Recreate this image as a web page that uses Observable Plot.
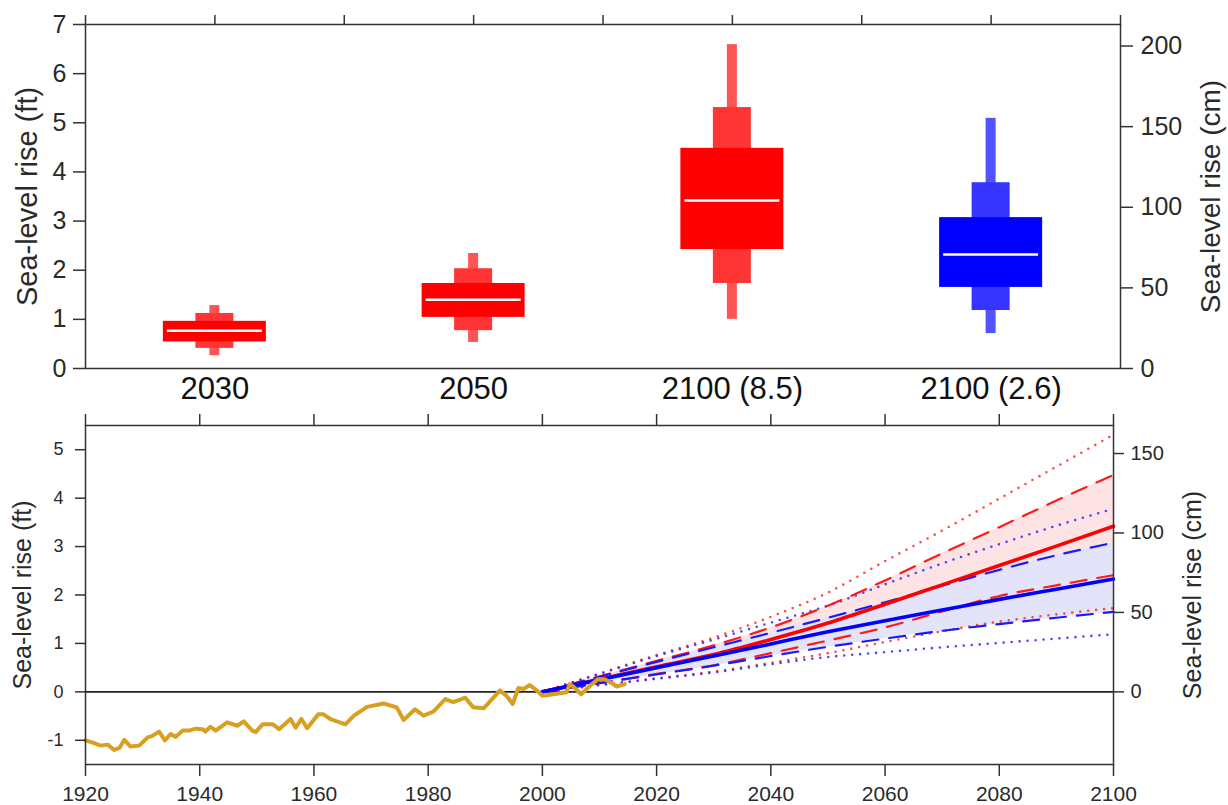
<!DOCTYPE html>
<html><head><meta charset="utf-8">
<script src="https://cdn.jsdelivr.net/npm/d3@7"></script>
<script src="https://cdn.jsdelivr.net/npm/@observablehq/plot@0.6"></script>
<style>
body{margin:0;background:#fff;}
#chart{width:1228px;height:805px;overflow:hidden;}
#chart svg{display:block;}
</style></head><body><div id="chart"></div>
<script>
// ---------- Top panel data (ft) ----------
const categories = ["2030", "2050", "2100 (8.5)", "2100 (2.6)"];
const scenario   = ["RCP8.5", "RCP8.5", "RCP8.5", "RCP2.6"];
const whiskerLo  = [0.26, 0.53, 1.00, 0.71];
const whiskerHi  = [1.28, 2.34, 6.59, 5.09];
const outerLo    = [0.41, 0.77, 1.73, 1.18];
const outerHi    = [1.12, 2.03, 5.31, 3.78];
const innerLo    = [0.54, 1.04, 2.42, 1.65];
const innerHi    = [0.96, 1.73, 4.48, 3.07];
const medianFt   = [0.77, 1.40, 3.42, 2.32];
const topFtTicks = [0, 1, 2, 3, 4, 5, 6, 7];
const topCmTicks = [0, 50, 100, 150, 200];

// ---------- Bottom panel data (ft) ----------
const histYear = [1920,1921,1922.7,1923.9,1925,1926,1926.8,1927.9,1929.4,1930.9,1931.7,1932.9,1933.9,1934.9,1935.8,1937,1938.1,1939.3,1940.5,1941,1941.9,1942.8,1944.8,1946.6,1947.7,1949.2,1949.8,1951,1952.8,1953.9,1955.9,1956.8,1957.8,1958.8,1960.8,1961.6,1963,1965.5,1967,1969.3,1972.2,1974.5,1975.7,1977.7,1979.2,1980.9,1983,1984.4,1986.5,1987.9,1989.7,1992.6,1993.7,1994.8,1995.8,1996.7,1997.8,1999,2000,2001.9,2004.2,2004.8,2005.4,2006.8,2008.3,2009.7,2010.9,2012.4,2013,2014.4];
const histFt   = [-1.00,-1.04,-1.11,-1.09,-1.20,-1.15,-0.99,-1.13,-1.11,-0.94,-0.91,-0.82,-1.00,-0.87,-0.93,-0.80,-0.80,-0.76,-0.77,-0.82,-0.72,-0.80,-0.63,-0.70,-0.61,-0.80,-0.83,-0.67,-0.67,-0.77,-0.56,-0.74,-0.56,-0.75,-0.46,-0.46,-0.57,-0.67,-0.49,-0.31,-0.24,-0.32,-0.58,-0.36,-0.49,-0.41,-0.15,-0.21,-0.12,-0.32,-0.34,0.03,-0.08,-0.25,0.08,0.06,0.14,0.03,-0.08,-0.05,-0.01,0.16,0.11,-0.05,0.12,0.26,0.26,0.16,0.11,0.16];

const projYear = [2000, 2010, 2020, 2030, 2040, 2050, 2060, 2070, 2080, 2090, 2100];
const red50  = [0, 0.26, 0.52, 0.77, 1.08, 1.42, 1.81, 2.21, 2.61, 3.01, 3.42];
const red17  = [0, 0.18, 0.37, 0.55, 0.80, 1.06, 1.33, 1.66, 1.98, 2.20, 2.41];
const red83  = [0, 0.32, 0.64, 0.96, 1.33, 1.78, 2.30, 2.86, 3.40, 3.95, 4.48];
const red5   = [0, 0.14, 0.28, 0.42, 0.60, 0.80, 1.03, 1.25, 1.45, 1.60, 1.73];
const red95  = [0, 0.38, 0.76, 1.12, 1.55, 2.05, 2.70, 3.33, 3.99, 4.65, 5.31];
const blue50 = [0, 0.25, 0.50, 0.74, 0.99, 1.24, 1.47, 1.69, 1.91, 2.12, 2.33];
const blue17 = [0, 0.18, 0.36, 0.54, 0.74, 0.93, 1.10, 1.26, 1.40, 1.53, 1.65];
const blue83 = [0, 0.31, 0.62, 0.92, 1.22, 1.53, 1.85, 2.19, 2.52, 2.82, 3.08];
const blue5  = [0, 0.14, 0.27, 0.40, 0.57, 0.72, 0.82, 0.92, 1.01, 1.10, 1.19];
const blue95 = [0, 0.37, 0.74, 1.08, 1.43, 1.78, 2.22, 2.65, 3.05, 3.43, 3.78];
const bottomFtTicks = [-1, 0, 1, 2, 3, 4, 5];
const bottomCmTicks = [0, 50, 100, 150];
const yearTicks = [1920, 1940, 1960, 1980, 2000, 2020, 2040, 2060, 2080, 2100];

const FT_TO_CM = 30.48;
const FONT = '"Liberation Sans", Arial, Helvetica, sans-serif';
const INK = "#2a2a2a";
const palette = {
  "RCP8.5": {inner: "#ff0000", outer: "#ff3535", whisk: "#ff5454"},
  "RCP2.6": {inner: "#0000ff", outer: "#3535ff", whisk: "#5454ff"}
};

// ---------- Top panel ----------
const boxes = categories.map((c, i) => ({
  c, pos: 2 * i + 1, pal: palette[scenario[i]],
  wl: whiskerLo[i], wh: whiskerHi[i], ol: outerLo[i], oh: outerHi[i],
  il: innerLo[i], ih: innerHi[i], med: medianFt[i]
}));
const TOP_W = 1228, TOP_ML = 85, TOP_MR = 108;
const unitPx = (TOP_W - TOP_ML - TOP_MR) / 8;
const halfW = px => px / 2 / unitPx;

const topPlot = Plot.plot({
  width: TOP_W, height: 412,
  marginLeft: TOP_ML, marginRight: TOP_MR, marginTop: 24, marginBottom: 44,
  x: {domain: [0, 8]},
  y: {domain: [0, 7]},
  color: {type: "identity"},
  style: {fontFamily: FONT, color: INK, background: "#fff"},
  marks: [
    Plot.rect(boxes, {x1: d => d.pos - halfW(10), x2: d => d.pos + halfW(10), y1: "wl", y2: "wh", fill: d => d.pal.whisk}),
    Plot.rect(boxes, {x1: d => d.pos - halfW(38), x2: d => d.pos + halfW(38), y1: "ol", y2: "oh", fill: d => d.pal.outer}),
    Plot.rect(boxes, {x1: d => d.pos - halfW(103), x2: d => d.pos + halfW(103), y1: "il", y2: "ih", fill: d => d.pal.inner}),
    Plot.ruleY(boxes, {y: "med", x1: d => d.pos - halfW(95), x2: d => d.pos + halfW(95), stroke: "#fff", strokeWidth: 2.5}),
    Plot.frame({stroke: "#333", strokeWidth: 1.5}),
    Plot.axisX({anchor: "top", ticks: d3.range(0, 9), tickSize: 10, tickFormat: () => "", stroke: "#333", strokeWidth: 1.5, label: null}),
    Plot.axisX({anchor: "bottom", ticks: boxes.map(d => d.pos), tickSize: 0, tickPadding: 8,
      tickFormat: p => categories[(p - 1) / 2], fontSize: 31, fill: "#111", label: null}),
    Plot.axisY({anchor: "left", ticks: topFtTicks, tickFormat: d => String(d), tickSize: 12, tickPadding: 7, fontSize: 25, stroke: "#333", strokeWidth: 1.5, fill: INK, label: null}),
    Plot.axisY({anchor: "right", ticks: topCmTicks.map(c => c / FT_TO_CM), tickFormat: v => String(Math.round(v * FT_TO_CM)),
      tickSize: 12, tickPadding: 8, fontSize: 25, stroke: "#333", strokeWidth: 1.5, fill: INK, label: null}),
    Plot.text(["Sea-level rise (ft)"], {frameAnchor: "left", textAnchor: "middle", lineAnchor: "middle", dx: -58, rotate: -90, fontSize: 29, fill: INK}),
    Plot.text(["Sea-level rise (cm)"], {frameAnchor: "right", textAnchor: "middle", lineAnchor: "middle", dx: 91, rotate: -90, fontSize: 28, fill: INK})
  ]
});

// ---------- Bottom panel ----------
const hist = histYear.map((y, i) => ({year: y, ft: histFt[i]}));
const proj = projYear.map((y, i) => ({
  year: y, r50: red50[i], r17: red17[i], r83: red83[i], r5: red5[i], r95: red95[i],
  b50: blue50[i], b17: blue17[i], b83: blue83[i], b5: blue5[i], b95: blue95[i]
}));
const CURVE = "monotone-x";
const dotted = (y, stroke) => Plot.line(proj, {x: "year", y, stroke, strokeWidth: 2.6, strokeDasharray: "0,8", strokeLinecap: "round", strokeOpacity: 0.85, curve: CURVE});
const dashed = (y, stroke) => Plot.line(proj, {x: "year", y, stroke, strokeWidth: 2.2, strokeDasharray: "16,11", curve: CURVE});
const solid  = (y, stroke) => Plot.line(proj, {x: "year", y, stroke, strokeWidth: 3.6, curve: CURVE});

const bottomPlot = Plot.plot({
  width: 1228, height: 393,
  marginLeft: 85, marginRight: 115, marginTop: 13, marginBottom: 41,
  x: {domain: [1920, 2100]},
  y: {domain: [-1.5, 5.5]},
  style: {fontFamily: FONT, color: INK, background: "#fff"},
  marks: [
    Plot.areaY(proj, {x: "year", y1: "r17", y2: "r83", fill: "#fde3e3", curve: CURVE}),
    Plot.areaY(proj, {x: "year", y1: "b17", y2: "b83", fill: "#e3e3fa", curve: CURVE}),
    Plot.ruleY([0], {stroke: "#222", strokeWidth: 1.6}),
    dotted("r95", "#ff2a2a"), dotted("r5", "#ff2a2a"),
    dotted("b95", "#2a2aff"), dotted("b5", "#2a2aff"),
    dashed("r83", "#ff1a1a"), dashed("r17", "#ff1a1a"),
    dashed("b83", "#1a1aff"), dashed("b17", "#1a1aff"),
    solid("r50", "#ff0000"),
    solid("b50", "#0000ff"),
    Plot.line(hist, {x: "year", y: "ft", stroke: "#d8a020", strokeWidth: 4, strokeLinejoin: "round"}),
    Plot.frame({stroke: "#333", strokeWidth: 1.5}),
    Plot.axisX({anchor: "top", ticks: yearTicks, tickSize: 12, tickFormat: () => "", stroke: "#333", strokeWidth: 1.5, label: null}),
    Plot.axisX({anchor: "bottom", ticks: yearTicks, tickSize: 12, tickPadding: 10, tickFormat: d => String(d), fontSize: 21, stroke: "#333", strokeWidth: 1.5, fill: INK, label: null}),
    Plot.axisY({anchor: "left", ticks: bottomFtTicks, tickSize: 10, tickPadding: 12, tickFormat: d => String(d), fontSize: 18, stroke: "#333", strokeWidth: 1.5, fill: INK, label: null}),
    Plot.axisY({anchor: "right", ticks: bottomCmTicks.map(c => c / FT_TO_CM), tickFormat: v => String(Math.round(v * FT_TO_CM)),
      tickSize: 10, tickPadding: 7, fontSize: 20, stroke: "#333", strokeWidth: 1.5, fill: INK, label: null}),
    Plot.text(["Sea-level rise (ft)"], {frameAnchor: "left", textAnchor: "middle", lineAnchor: "middle", dx: -63, rotate: -90, fontSize: 25, fill: INK}),
    Plot.text(["Sea-level rise (cm)"], {frameAnchor: "right", textAnchor: "middle", lineAnchor: "middle", dx: 79, rotate: -90, fontSize: 25, fill: INK})
  ]
});

const root = document.getElementById("chart");
root.appendChild(topPlot);
root.appendChild(bottomPlot);
</script>
</body></html>
